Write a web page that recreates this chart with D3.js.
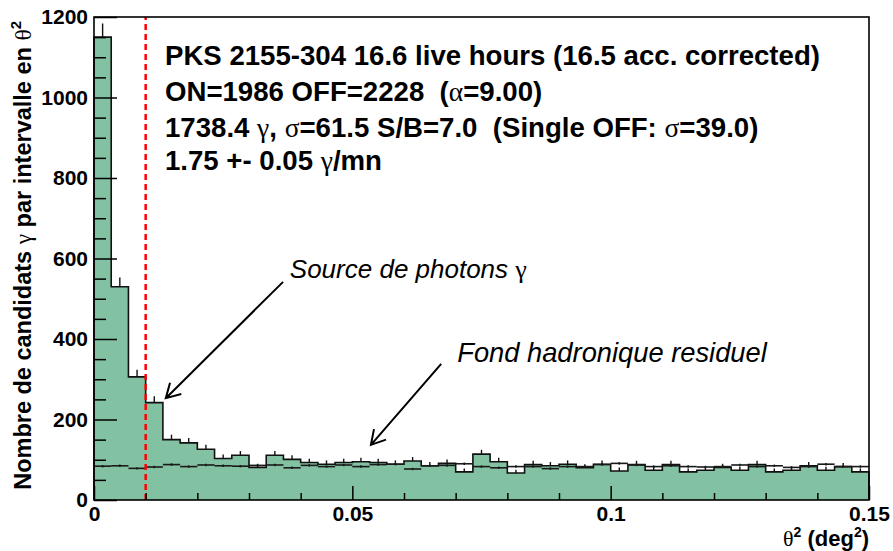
<!DOCTYPE html>
<html>
<head>
<meta charset="utf-8">
<script src="https://cdn.jsdelivr.net/npm/d3@7"></script>
<style>
  html, body { margin: 0; padding: 0; background: #fff; }
  svg { display: block; font-family: "Liberation Sans", Arial, Helvetica, sans-serif; }
  svg text { white-space: pre; }
  .greek { font-family: "Liberation Serif", "DejaVu Serif", serif; font-weight: normal; }
</style>
</head>
<body>
<svg id="chart" width="893" height="551"></svg>
<script>
// θ² distribution: ON events (filled) and normalised OFF background (points with errors)
const thetaMax = 0.15;
const nBins = 45;
const thetaCut = 0.01;

// ON counts per θ² bin (width 0.15/45 deg²)
const onCounts = [
  1150, 530, 306, 242, 150, 142, 126, 103, 111, 81,
  111, 101, 93, 89, 93, 95, 93, 89, 97, 85,
  91, 70, 114, 95, 67, 88, 85, 89, 80, 89,
  72, 88, 74, 88, 70, 74, 81, 74, 88, 70,
  74, 85, 74, 83, 70
];
// OFF counts scaled by 1/alpha (alpha = 9)
const offCounts = [
  84, 85, 78.6, 82, 88, 83, 87, 85, 84, 86,
  87, 80, 86, 83, 87, 83, 88, 89, 77, 85,
  86, 90, 83, 80, 83, 83, 78, 83, 83, 88,
  91, 87, 83, 85, 83, 82, 83, 87, 83, 85,
  81, 83, 89, 83, 83
];
const alpha = 9;

const xMajorTicks = [0, 0.05, 0.1, 0.15];
const xMinorTicks = [0.01, 0.02, 0.03, 0.04, 0.06, 0.07, 0.08, 0.09, 0.11, 0.12, 0.13, 0.14];
const yMajorTicks = [0, 200, 400, 600, 800, 1000, 1200];
const yMinorTicks = [50, 100, 150, 250, 300, 350, 450, 500, 550, 650, 700, 750, 850, 900, 950, 1050, 1100, 1150];

const infoLines = [
  [["PKS 2155-304 16.6 live hours (16.5 acc. corrected)", false]],
  [["ON=1986 OFF=2228  (", false], ["α", true], ["=9.00)", false]],
  [["1738.4 ", false], ["γ", true], [", ", false], ["σ", true], ["=61.5 S/B=7.0  (Single OFF: ", false], ["σ", true], ["=39.0)", false]],
  [["1.75 +- 0.05 ", false], ["γ", true], ["/mn", false]]
];

const width = 893, height = 551;
const margin = { left: 94, right: 24, top: 17, bottom: 51 };
const svg = d3.select("#chart");

const x = d3.scaleLinear().domain([0, thetaMax]).range([margin.left, width - margin.right]);
const y = d3.scaleLinear().domain([0, 1200]).range([height - margin.bottom, margin.top]);

const binW = thetaMax / nBins;
const bins = onCounts.map((on, i) => ({
  lo: i * binW, hi: (i + 1) * binW, mid: (i + 0.5) * binW,
  on, off: offCounts[i]
}));

// ON histogram: filled step outline
const stepPts = [[0, 0]];
bins.forEach(b => { stepPts.push([b.lo, b.on]); stepPts.push([b.hi, b.on]); });
stepPts.push([thetaMax, 0]);
const line = d3.line().x(d => x(d[0])).y(d => y(d[1]));
svg.append("path")
  .attr("d", line(stepPts))
  .attr("fill", "#82c1a2")
  .attr("stroke", "#111")
  .attr("stroke-width", 1.6);

// ON statistical error (upper half, above the fill)
svg.append("g").selectAll("line").data(bins).join("line")
  .attr("x1", d => x(d.mid)).attr("x2", d => x(d.mid))
  .attr("y1", d => y(d.on)).attr("y2", d => y(d.on + Math.sqrt(d.on)))
  .attr("stroke", "#111").attr("stroke-width", 1.4);

// OFF background: horizontal bin bars + vertical errors
const offG = svg.append("g").attr("stroke", "#1a1a1a").attr("stroke-width", 1.6);
offG.selectAll("line.h").data(bins).join("line").attr("class", "h")
  .attr("x1", d => x(d.lo)).attr("x2", d => x(d.hi))
  .attr("y1", d => y(d.off)).attr("y2", d => y(d.off));
offG.selectAll("line.v").data(bins).join("line").attr("class", "v")
  .attr("x1", d => x(d.mid)).attr("x2", d => x(d.mid))
  .attr("y1", d => y(d.off - Math.sqrt(d.off * alpha) / alpha))
  .attr("y2", d => y(d.off + Math.sqrt(d.off * alpha) / alpha));

// θ² cut
svg.append("line")
  .attr("x1", x(thetaCut)).attr("x2", x(thetaCut))
  .attr("y1", y(0)).attr("y2", y(1200))
  .attr("stroke", "#ff0000").attr("stroke-width", 2.5)
  .attr("stroke-dasharray", "6,4");

// Frame
svg.append("rect")
  .attr("x", x(0)).attr("y", y(1200))
  .attr("width", x(thetaMax) - x(0)).attr("height", y(0) - y(1200))
  .attr("fill", "none").attr("stroke", "#000").attr("stroke-width", 1.6);

// Axes
const fmtX = d => d3.format("~g")(d);
svg.append("g").attr("transform", `translate(0,${y(0)})`)
  .call(d3.axisBottom(x).tickValues(xMajorTicks).tickSize(-14).tickPadding(6).tickFormat(fmtX));
svg.append("g").attr("transform", `translate(0,${y(0)})`)
  .call(d3.axisBottom(x).tickValues(xMinorTicks).tickSize(-7).tickFormat(""));
svg.append("g").attr("transform", `translate(${x(0)},0)`)
  .call(d3.axisLeft(y).tickValues(yMajorTicks).tickSize(-23).tickPadding(6).tickFormat(d3.format("d")));
svg.append("g").attr("transform", `translate(${x(0)},0)`)
  .call(d3.axisLeft(y).tickValues(yMinorTicks).tickSize(-12).tickFormat(""));
svg.selectAll(".domain").remove();
svg.selectAll(".tick line").attr("stroke", "#000").attr("stroke-width", 1.5);
svg.selectAll(".tick text")
  .attr("font-family", "Liberation Sans, Arial, sans-serif")
  .attr("font-weight", "bold").attr("font-size", 21).attr("fill", "#000");

// Axis titles
const xt = svg.append("text")
  .attr("x", x(thetaMax)).attr("y", 546)
  .attr("text-anchor", "end").attr("font-weight", "bold").attr("font-size", 22);
xt.append("tspan").attr("class", "greek").text("θ");
xt.append("tspan").attr("font-size", 14).attr("dy", -9).text("2");
xt.append("tspan").attr("dy", 9).text(" (deg");
xt.append("tspan").attr("font-size", 14).attr("dy", -9).text("2");
xt.append("tspan").attr("dy", 9).text(")");

const yt = svg.append("text")
  .attr("transform", `translate(31,${y(1200) + 4}) rotate(-90)`)
  .attr("text-anchor", "end").attr("font-weight", "bold").attr("font-size", 23.5);
yt.append("tspan").text("Nombre de candidats ");
yt.append("tspan").attr("class", "greek").text("γ");
yt.append("tspan").text(" par intervalle en ");
yt.append("tspan").attr("class", "greek").text("θ");
yt.append("tspan").attr("font-size", 15).attr("dy", -10).text("2");

// Run summary
const infoY = [65, 101, 137, 170];
infoLines.forEach((parts, i) => {
  const t = svg.append("text").attr("x", 165).attr("y", infoY[i])
    .attr("font-weight", "bold").attr("font-size", 27.6);
  parts.forEach(([s, g]) => {
    const sp = t.append("tspan").text(s);
    if (g) sp.attr("class", "greek");
  });
});

// Annotations with open arrows
const notes = [
  { label: ["Source de photons ", "γ"], size: 26, tx: 0.0379, ty: 551, from: [0.0366, 542], to: [0.0139, 253] },
  { label: ["Fond hadronique residuel", ""], size: 27.3, tx: 0.0703, ty: 343, from: [0.0672, 338], to: [0.0536, 137] }
];
notes.forEach(n => {
  const t = svg.append("text").attr("x", x(n.tx)).attr("y", y(n.ty))
    .attr("font-style", "italic").attr("font-size", n.size);
  t.append("tspan").text(n.label[0]);
  if (n.label[1]) t.append("tspan").attr("class", "greek").attr("font-style", "normal").text(n.label[1]);
  const x0 = x(n.from[0]), y0 = y(n.from[1]), x1 = x(n.to[0]), y1 = y(n.to[1]);
  const ang = Math.atan2(y0 - y1, x0 - x1), L = 16, spread = Math.PI / 6;
  const p = d3.path();
  p.moveTo(x0, y0); p.lineTo(x1, y1);
  p.moveTo(x1 + L * Math.cos(ang - spread), y1 + L * Math.sin(ang - spread));
  p.lineTo(x1, y1);
  p.lineTo(x1 + L * Math.cos(ang + spread), y1 + L * Math.sin(ang + spread));
  svg.append("path").attr("d", p.toString())
    .attr("fill", "none").attr("stroke", "#000").attr("stroke-width", 2);
});
</script>
</body>
</html>
